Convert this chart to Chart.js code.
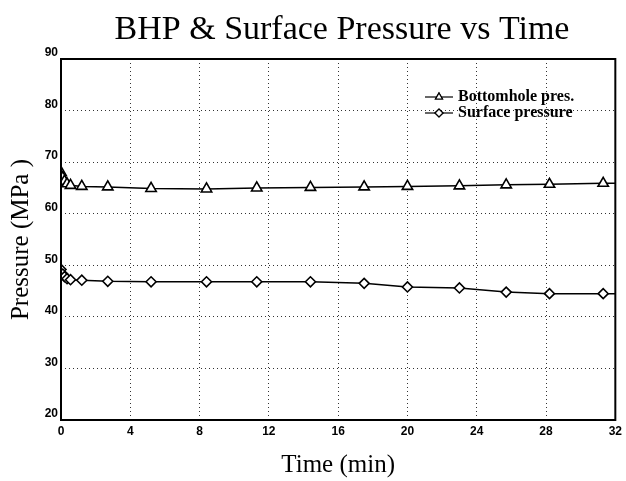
<!DOCTYPE html>
<html><head><meta charset="utf-8">
<script src="https://cdn.jsdelivr.net/npm/chart.js@4.4.1/dist/chart.umd.min.js"></script>
<style>html,body{margin:0;padding:0;background:#fff}#wrap{width:626px;height:481px}</style>
</head><body><div id="wrap"><canvas id="c" width="626" height="481"></canvas></div>
<script>
const chartTitle = "BHP & Surface Pressure vs Time";
const xTitle = "Time (min)";
const yTitle = "Pressure (MPa )";
const seriesNames = ["Bottomhole pres.", "Surface pressure"];
const xTicks = [0, 4, 8, 12, 16, 20, 24, 28, 32];
const yTicks = [20, 30, 40, 50, 60, 70, 80, 90];
const bhpTime = [0, 0.1, 0.2, 0.35, 0.55, 1.2, 2.7, 5.2, 8.4, 11.3, 14.4, 17.5, 20.0, 23.0, 25.7, 28.2, 31.3, 32];
const bhpVals = [68.0, 67.0, 66.3, 65.8, 65.5, 65.3, 65.2, 64.9, 64.8, 65.0, 65.1, 65.2, 65.3, 65.4, 65.6, 65.7, 65.9, 65.9];
const surfTime = [0, 0.1, 0.2, 0.35, 0.55, 1.2, 2.7, 5.2, 8.4, 11.3, 14.4, 17.5, 20.0, 23.0, 25.7, 28.2, 31.3, 32];
const surfVals = [49.2, 48.3, 47.8, 47.4, 47.2, 47.1, 46.9, 46.8, 46.8, 46.8, 46.8, 46.5, 45.8, 45.6, 44.8, 44.5, 44.5, 44.5];

const toPts = (xs, ys) => xs.map((x, i) => ({x: x, y: ys[i]}));

const frame = {
  id: 'frame',
  afterDraw(chart) {
    const {ctx, chartArea: a} = chart;
    ctx.save();
    ctx.strokeStyle = '#000';
    ctx.lineWidth = 2;
    ctx.strokeRect(a.left, a.top, a.right - a.left, a.bottom - a.top);
    ctx.fillStyle = '#000';
    ctx.font = '34px "Liberation Serif"';
    ctx.textAlign = 'center';
    ctx.textBaseline = 'alphabetic';
    ctx.fillText(chartTitle, 342, 39);
    const items = [
      {name: seriesNames[0], style: 'triangle'},
      {name: seriesNames[1], style: 'rectRot'}
    ];
    ctx.font = 'bold 16px "Liberation Serif"';
    ctx.textAlign = 'left';
    ctx.textBaseline = 'middle';
    items.forEach((it, i) => {
      const y = 97 + i * 16;
      ctx.strokeStyle = '#000';
      ctx.lineWidth = 1.2;
      ctx.beginPath(); ctx.moveTo(425, y); ctx.lineTo(453, y); ctx.stroke();
      ctx.fillStyle = '#fff';
      Chart.helpers.drawPoint(ctx, {pointStyle: it.style, radius: 4, borderWidth: 1.2}, 439, y);
      ctx.fill(); ctx.stroke();
      ctx.fillStyle = '#000';
      ctx.fillText(it.name, 458, y);
    });
    ctx.restore();
  }
};

const ds = (label, pts, style, r) => ({
  label: label,
  data: pts,
  showLine: true,
  borderColor: '#000',
  borderWidth: 1.5,
  backgroundColor: '#fff',
  pointStyle: style,
  pointRadius: r,
  pointBorderWidth: 1.6,
  pointBorderColor: '#000',
  pointBackgroundColor: '#fff',
  tension: 0
});

new Chart(document.getElementById('c'), {
  type: 'scatter',
  data: {
    datasets: [
      ds(seriesNames[0], toPts(bhpTime, bhpVals), 'triangle', bhpTime.map((t, i) => i === bhpTime.length - 1 ? 0 : 6)),
      ds(seriesNames[1], toPts(surfTime, surfVals), 'rectRot', surfTime.map((t, i) => i === surfTime.length - 1 ? 0 : 5))
    ]
  },
  options: {
    responsive: false,
    animation: false,
    layout: {padding: {top: 59, right: 8, left: 0, bottom: 0}},
    plugins: {legend: {display: false}, tooltip: {enabled: false}, title: {display: false}},
    scales: {
      x: {
        type: 'linear', min: 0, max: 32,
        afterBuildTicks: (s) => { s.ticks = xTicks.map(v => ({value: v})); },
        afterFit: (s) => { s.height = 61; },
        grid: {color: '#333', lineWidth: 1, drawTicks: false},
        border: {display: false, dash: [1, 3]},
        ticks: {color: '#000', font: {family: 'Liberation Sans', size: 12, weight: 'bold'}, padding: 4, maxRotation: 0},
        title: {display: true, text: xTitle, color: '#000', font: {family: 'Liberation Serif', size: 25}, padding: {top: 0, bottom: 1}}
      },
      y: {
        type: 'linear', min: 20, max: 90,
        afterBuildTicks: (s) => { s.ticks = yTicks.map(v => ({value: v})); },
        afterFit: (s) => { s.width = 61; },
        grid: {color: '#333', lineWidth: 1, drawTicks: false},
        border: {display: false, dash: [1, 3]},
        ticks: {color: '#000', font: {family: 'Liberation Sans', size: 12, weight: 'bold'}, padding: 3, labelOffset: -6},
        title: {display: true, text: yTitle, color: '#000', font: {family: 'Liberation Serif', size: 25}, padding: {top: 6, bottom: 0}}
      }
    }
  },
  plugins: [frame]
});
</script>
</body></html>
